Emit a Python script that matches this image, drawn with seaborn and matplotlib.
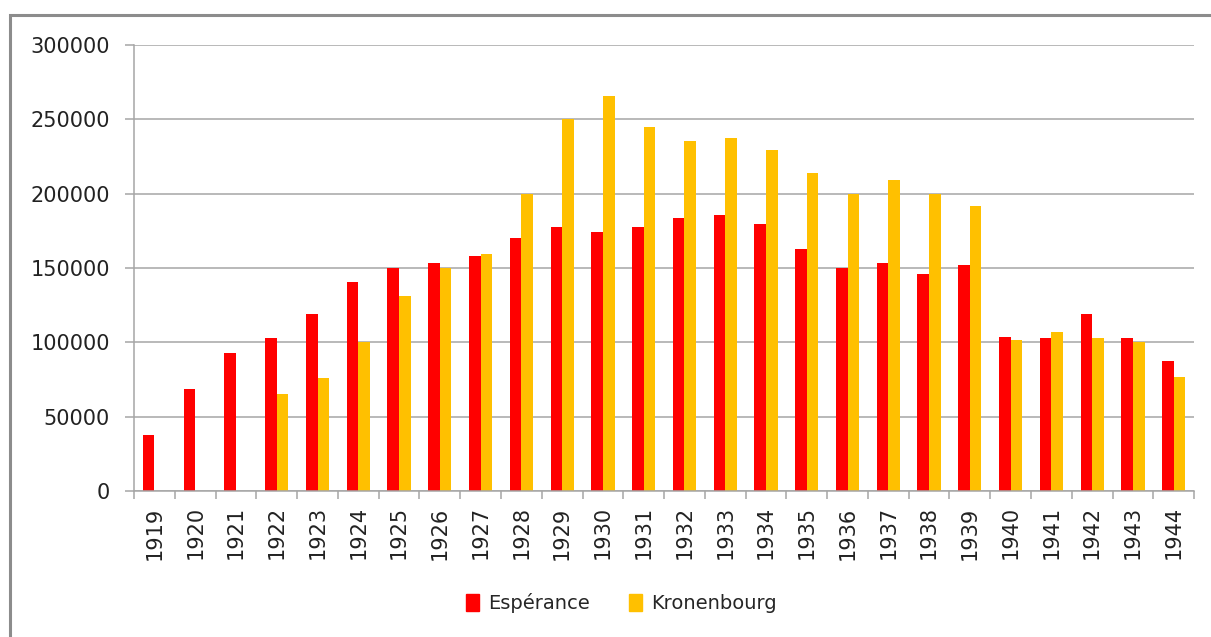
import matplotlib
matplotlib.use("Agg")
import matplotlib.pyplot as plt
import seaborn as sns
import numpy as np
import pandas as pd
from matplotlib.patches import Rectangle

# Data
years = list(range(1919, 1945))
esperance = [38000, 68500, 92500, 103000, 119000, 140700, 150000, 153700,
             158000, 170000, 177700, 174300, 177700, 183800, 185500, 179700,
             163100, 150000, 153700, 145800, 151900, 103900, 102800, 119100,
             102800, 87300]
kronenbourg = [np.nan, np.nan, np.nan, 65000, 76000, 100000, 131300, 150000,
               159700, 200000, 250000, 265600, 245000, 235600, 237200, 229500,
               214000, 199500, 208900, 200000, 191600, 101900, 107000, 102800,
               100000, 77000]
series_names = ["Espérance", "Kronenbourg"]
colors = ["#FF0000", "#FFC000"]

df = pd.DataFrame({"Année": [str(y) for y in years],
                   "Espérance": esperance,
                   "Kronenbourg": kronenbourg})
long_df = df.melt(id_vars="Année", var_name="Brasserie", value_name="Production").dropna()

sns.set_style("white")
plt.rcParams["font.family"] = ["DejaVu Sans"]

fig = plt.figure(figsize=(12.11, 6.37), dpi=100)
ax = fig.add_axes([0.1107, 0.2292, 0.986 - 0.1107, 0.9293 - 0.2292])

sns.barplot(data=long_df, x="Année", y="Production", hue="Brasserie",
            order=[str(y) for y in years], hue_order=series_names,
            palette=colors, width=0.57, dodge=True, gap=0,
            saturation=1, errorbar=None, linewidth=0, edgecolor="none",
            ax=ax, legend=True)

grid_col = "#A6A6A6"
ax.set_ylim(0, 300000)
ax.set_xlim(-0.5, len(years) - 0.5)
ax.set_yticks(np.arange(0, 300001, 50000))
ax.set_yticklabels([str(v) for v in range(0, 300001, 50000)])
ax.yaxis.grid(True, color=grid_col, linewidth=1.1)
ax.set_axisbelow(True)
ax.set_xlabel("")
ax.set_ylabel("")

for side in ["top", "right"]:
    ax.spines[side].set_visible(False)
for side in ["left", "bottom"]:
    ax.spines[side].set_color(grid_col)
    ax.spines[side].set_linewidth(1.1)

ax.tick_params(axis="y", which="major", length=6.5, width=1.1, color=grid_col,
               pad=11, labelsize=15, labelcolor="#222222", left=True)
ax.tick_params(axis="x", which="major", length=0, pad=11, labelsize=15,
               labelcolor="#222222", labelrotation=90)
ax.set_xticks(np.arange(-0.5, len(years), 1.0), minor=True)
ax.tick_params(axis="x", which="minor", length=6, width=1.1, color=grid_col, bottom=True)

# legend below the axes
ax.get_legend().remove()
handles = [Rectangle((0, 0), 1, 1, color=c) for c in colors]
fig.legend(handles, series_names, loc="center", bbox_to_anchor=(0.513, 0.0534),
           ncol=2, frameon=False, fontsize=14, handlelength=0.7,
           handleheight=0.95, handletextpad=0.45, columnspacing=2.0)

# chart frame (cropped on the right and bottom)
frame = Rectangle((10 / 1211, -0.05), 1.2, 1 - 15 / 637 + 0.05,
                  transform=fig.transFigure, fill=False,
                  edgecolor="#8C8C8C", linewidth=2.2, clip_on=False)
fig.patches.append(frame)

plt.savefig("out.png", dpi=100)
plt.close()
